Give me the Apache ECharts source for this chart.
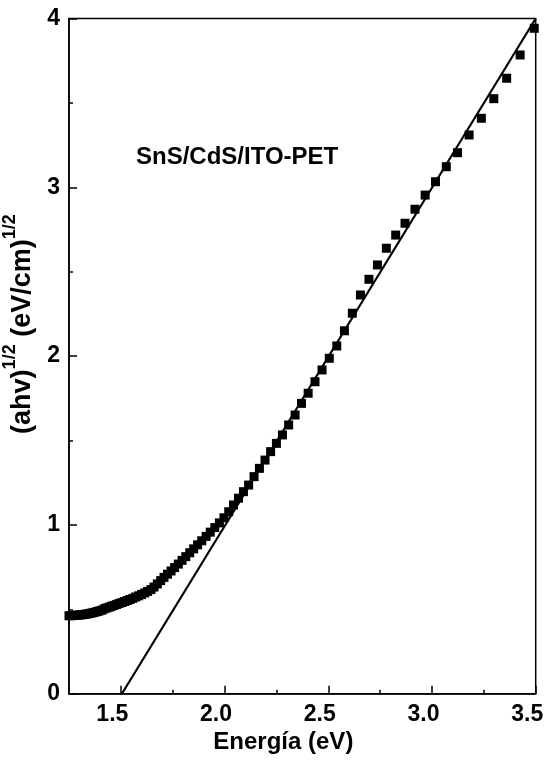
<!DOCTYPE html>
<html>
<head>
<meta charset="utf-8">
<script src="https://cdn.jsdelivr.net/npm/echarts@6/dist/echarts.min.js"></script>
<style>html,body{margin:0;padding:0;background:#fff}#c{width:548px;height:774px}</style>
</head>
<body>
<div id="c"></div>
<script>
const energy = [1.250,1.259,1.268,1.277,1.286,1.296,1.305,1.315,1.325,1.335,1.345,1.355,1.366,1.376,1.387,1.398,1.409,1.420,1.432,1.444,1.455,1.467,1.480,1.492,1.505,1.518,1.531,1.544,1.558,1.572,1.586,1.600,1.615,1.629,1.645,1.660,1.676,1.692,1.708,1.725,1.742,1.759,1.777,1.795,1.813,1.832,1.851,1.870,1.890,1.911,1.931,1.953,1.975,1.997,2.020,2.043,2.067,2.091,2.116,2.142,2.168,2.195,2.222,2.250,2.279,2.309,2.340,2.371,2.403,2.436,2.470,2.505,2.541,2.578,2.616,2.655,2.696,2.737,2.780,2.825,2.870,2.918,2.967,3.017,3.069,3.123,3.179,3.238,3.298,3.360,3.425,3.493];
const value  = [0.462,0.462,0.463,0.464,0.465,0.466,0.467,0.468,0.470,0.472,0.474,0.477,0.480,0.483,0.487,0.491,0.495,0.503,0.508,0.513,0.518,0.523,0.529,0.535,0.540,0.546,0.552,0.558,0.565,0.573,0.580,0.588,0.597,0.606,0.617,0.632,0.650,0.670,0.689,0.708,0.727,0.747,0.768,0.790,0.812,0.835,0.858,0.882,0.906,0.932,0.957,0.984,1.012,1.042,1.078,1.118,1.158,1.197,1.236,1.286,1.335,1.384,1.434,1.483,1.533,1.592,1.651,1.720,1.780,1.848,1.918,1.987,2.060,2.150,2.254,2.362,2.455,2.540,2.639,2.717,2.787,2.870,2.954,3.033,3.122,3.205,3.310,3.409,3.525,3.646,3.784,3.942];
// Linear fit (Tauc extrapolation) endpoints
const fitEnergy = [1.505, 3.5];
const fitValue  = [0, 4.0];
const xMajor = [1.5, 2.0, 2.5, 3.0, 3.5];
const xMinor = [1.75, 2.25, 2.75, 3.25];
const yMajor = [0, 1, 2, 3, 4];
const yMinor = [0.5, 1.5, 2.5, 3.5];
const sampleLabel = 'SnS/CdS/ITO-PET';

const font = "'Liberation Sans', Arial, sans-serif";
const chart = echarts.init(document.getElementById('c'), null, {renderer: 'canvas'});
const pts = energy.map((e, i) => [e, value[i]]);
const fit = fitEnergy.map((e, i) => [e, fitValue[i]]);
const lineBlack = {color: '#000', width: 1.5};

chart.setOption({
  animation: false,
  backgroundColor: '#fff',
  grid: {left: 69, right: 12.3, top: 18.5, bottom: 80.3, containLabel: false, outerBoundsMode: 'none',
         show: true, borderColor: '#000', borderWidth: 1.5, backgroundColor: 'transparent'},
  xAxis: [{
    type: 'value', min: 1.25, max: 3.5, interval: 0.25, position: 'bottom',
    axisLine: {show: true, onZero: false, lineStyle: lineBlack},
    axisTick: {show: true, inside: true, length: 8, customValues: xMajor, lineStyle: lineBlack},
    splitLine: {show: false},
    axisLabel: {
      customValues: xMajor,
      color: '#000', fontFamily: font, fontWeight: 'bold', fontSize: 23, margin: 9,
      padding: [0, 17, 0, 0],
      formatter: v => Number(v).toFixed(1)
    },
    name: 'Energía (eV)', nameLocation: 'middle', nameGap: 36,
    nameTextStyle: {color: '#000', fontFamily: font, fontWeight: 'bold', fontSize: 24, padding: [0, 38, 0, 0]}
  }, {
    type: 'value', min: 1.25, max: 3.5, interval: 0.25, position: 'bottom',
    axisLine: {show: false, onZero: false},
    axisTick: {show: true, inside: true, length: 4, customValues: xMinor, lineStyle: lineBlack},
    axisLabel: {show: false}, splitLine: {show: false}
  }],
  yAxis: [{
    type: 'value', min: 0, max: 4, interval: 0.5, position: 'left',
    axisLine: {show: true, onZero: false, lineStyle: lineBlack},
    axisTick: {show: true, inside: true, length: 8, customValues: yMajor, lineStyle: lineBlack},
    splitLine: {show: false},
    axisLabel: {
      customValues: yMajor,
      color: '#000', fontFamily: font, fontWeight: 'bold', fontSize: 23, margin: 9,
      formatter: v => String(v)
    },
    name: '{m|(ahv)}{s|1/2}{m| (eV/cm)}{s|1/2}', nameLocation: 'middle', nameRotate: 90, nameGap: 19,
    nameTextStyle: {
      padding: [0, 0, 0, 64],
      rich: {
        m: {color: '#000', fontFamily: font, fontWeight: 'bold', fontSize: 27, verticalAlign: 'bottom', lineHeight: 35},
        s: {color: '#000', fontFamily: font, fontWeight: 'bold', fontSize: 18, verticalAlign: 'top', lineHeight: 35}
      }
    }
  }, {
    type: 'value', min: 0, max: 4, interval: 0.5, position: 'left',
    axisLine: {show: false, onZero: false},
    axisTick: {show: true, inside: true, length: 4, customValues: yMinor, lineStyle: lineBlack},
    axisLabel: {show: false}, splitLine: {show: false}
  }],
  series: [
    {type: 'scatter', data: pts, symbol: 'rect', symbolSize: 9, itemStyle: {color: '#000', opacity: 1}, clip: true, z: 3},
    {type: 'line', data: fit, showSymbol: false, symbol: 'none', lineStyle: {color: '#000', width: 2.2, opacity: 1}, z: 4}
  ],
  graphic: [{
    type: 'text', left: 136, top: 145,
    style: {text: sampleLabel, fill: '#000', font: "bold 24px 'Liberation Sans', Arial, sans-serif"}
  }]
});
</script>
</body>
</html>
